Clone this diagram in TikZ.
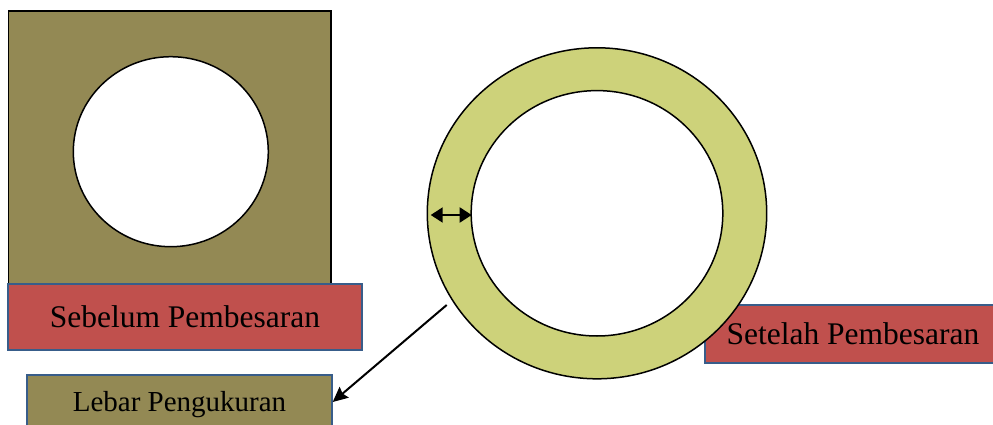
\documentclass[tikz,border=0pt]{standalone}
\usepackage{fontspec}
\setmainfont{Liberation Serif}
\usetikzlibrary{arrows.meta,shapes.geometric}
\definecolor{olivebox}{RGB}{147,137,84}
\definecolor{ringfill}{RGB}{205,210,122}
\definecolor{labelred}{RGB}{192,80,77}
\definecolor{labeledge}{RGB}{56,93,138}
\tikzset{
  labelbox/.style={rectangle, draw=labeledge, line width=2pt, inner sep=0pt,
    font=\fontsize{31.5}{36}\selectfont},
  redlabel/.style={labelbox, fill=labelred},
  olivelabel/.style={labelbox, fill=olivebox, font=\fontsize{29}{34}\selectfont},
  outline/.style={draw=black, line width=1.5pt},
  pointer/.style={line width=2pt, -{Stealth[length=15pt,width=14pt,inset=2pt]}},
  gauge/.style={line width=2pt, {Triangle[length=12pt,width=15pt]}-{Triangle[length=12pt,width=15pt]}}
}
\begin{document}
\begin{tikzpicture}[x=1pt,y=-1pt]
  \useasboundingbox (0,0) rectangle (993,425);
  % plate before enlarging
  \path[outline, fill=olivebox] (8.7,11) rectangle (331,300);
  \node[ellipse, outline, fill=white, minimum width=195pt, minimum height=190pt, inner sep=0pt]
    (hole) at (170.8,151.7) {};
  \node[redlabel, minimum width=353.4pt, minimum height=66pt] (sebelum) at (185,317) {Sebelum Pembesaran};
  \node[olivelabel, minimum width=304.4pt, minimum height=59pt] (lebar) at (179.5,404.5) {Lebar Pengukuran};
  \node[redlabel, minimum width=296pt, minimum height=58pt] (setelah) at (853,334) {Setelah Pembesaran};
  % ring after enlarging
  \path[outline, fill=ringfill, even odd rule]
    (597,213.3) ellipse [x radius=169.7, y radius=165.5]
    (597,213.3) ellipse [x radius=125.8, y radius=122.7];
  \coordinate (wl) at (430.7,215);
  \coordinate (wr) at (471.7,215);
  \draw[gauge] (wl) -- (wr);
  \coordinate (tail) at (446.7,305);
  \draw[pointer] (tail) -- (lebar.east |- 0,402);
\end{tikzpicture}
\end{document}
